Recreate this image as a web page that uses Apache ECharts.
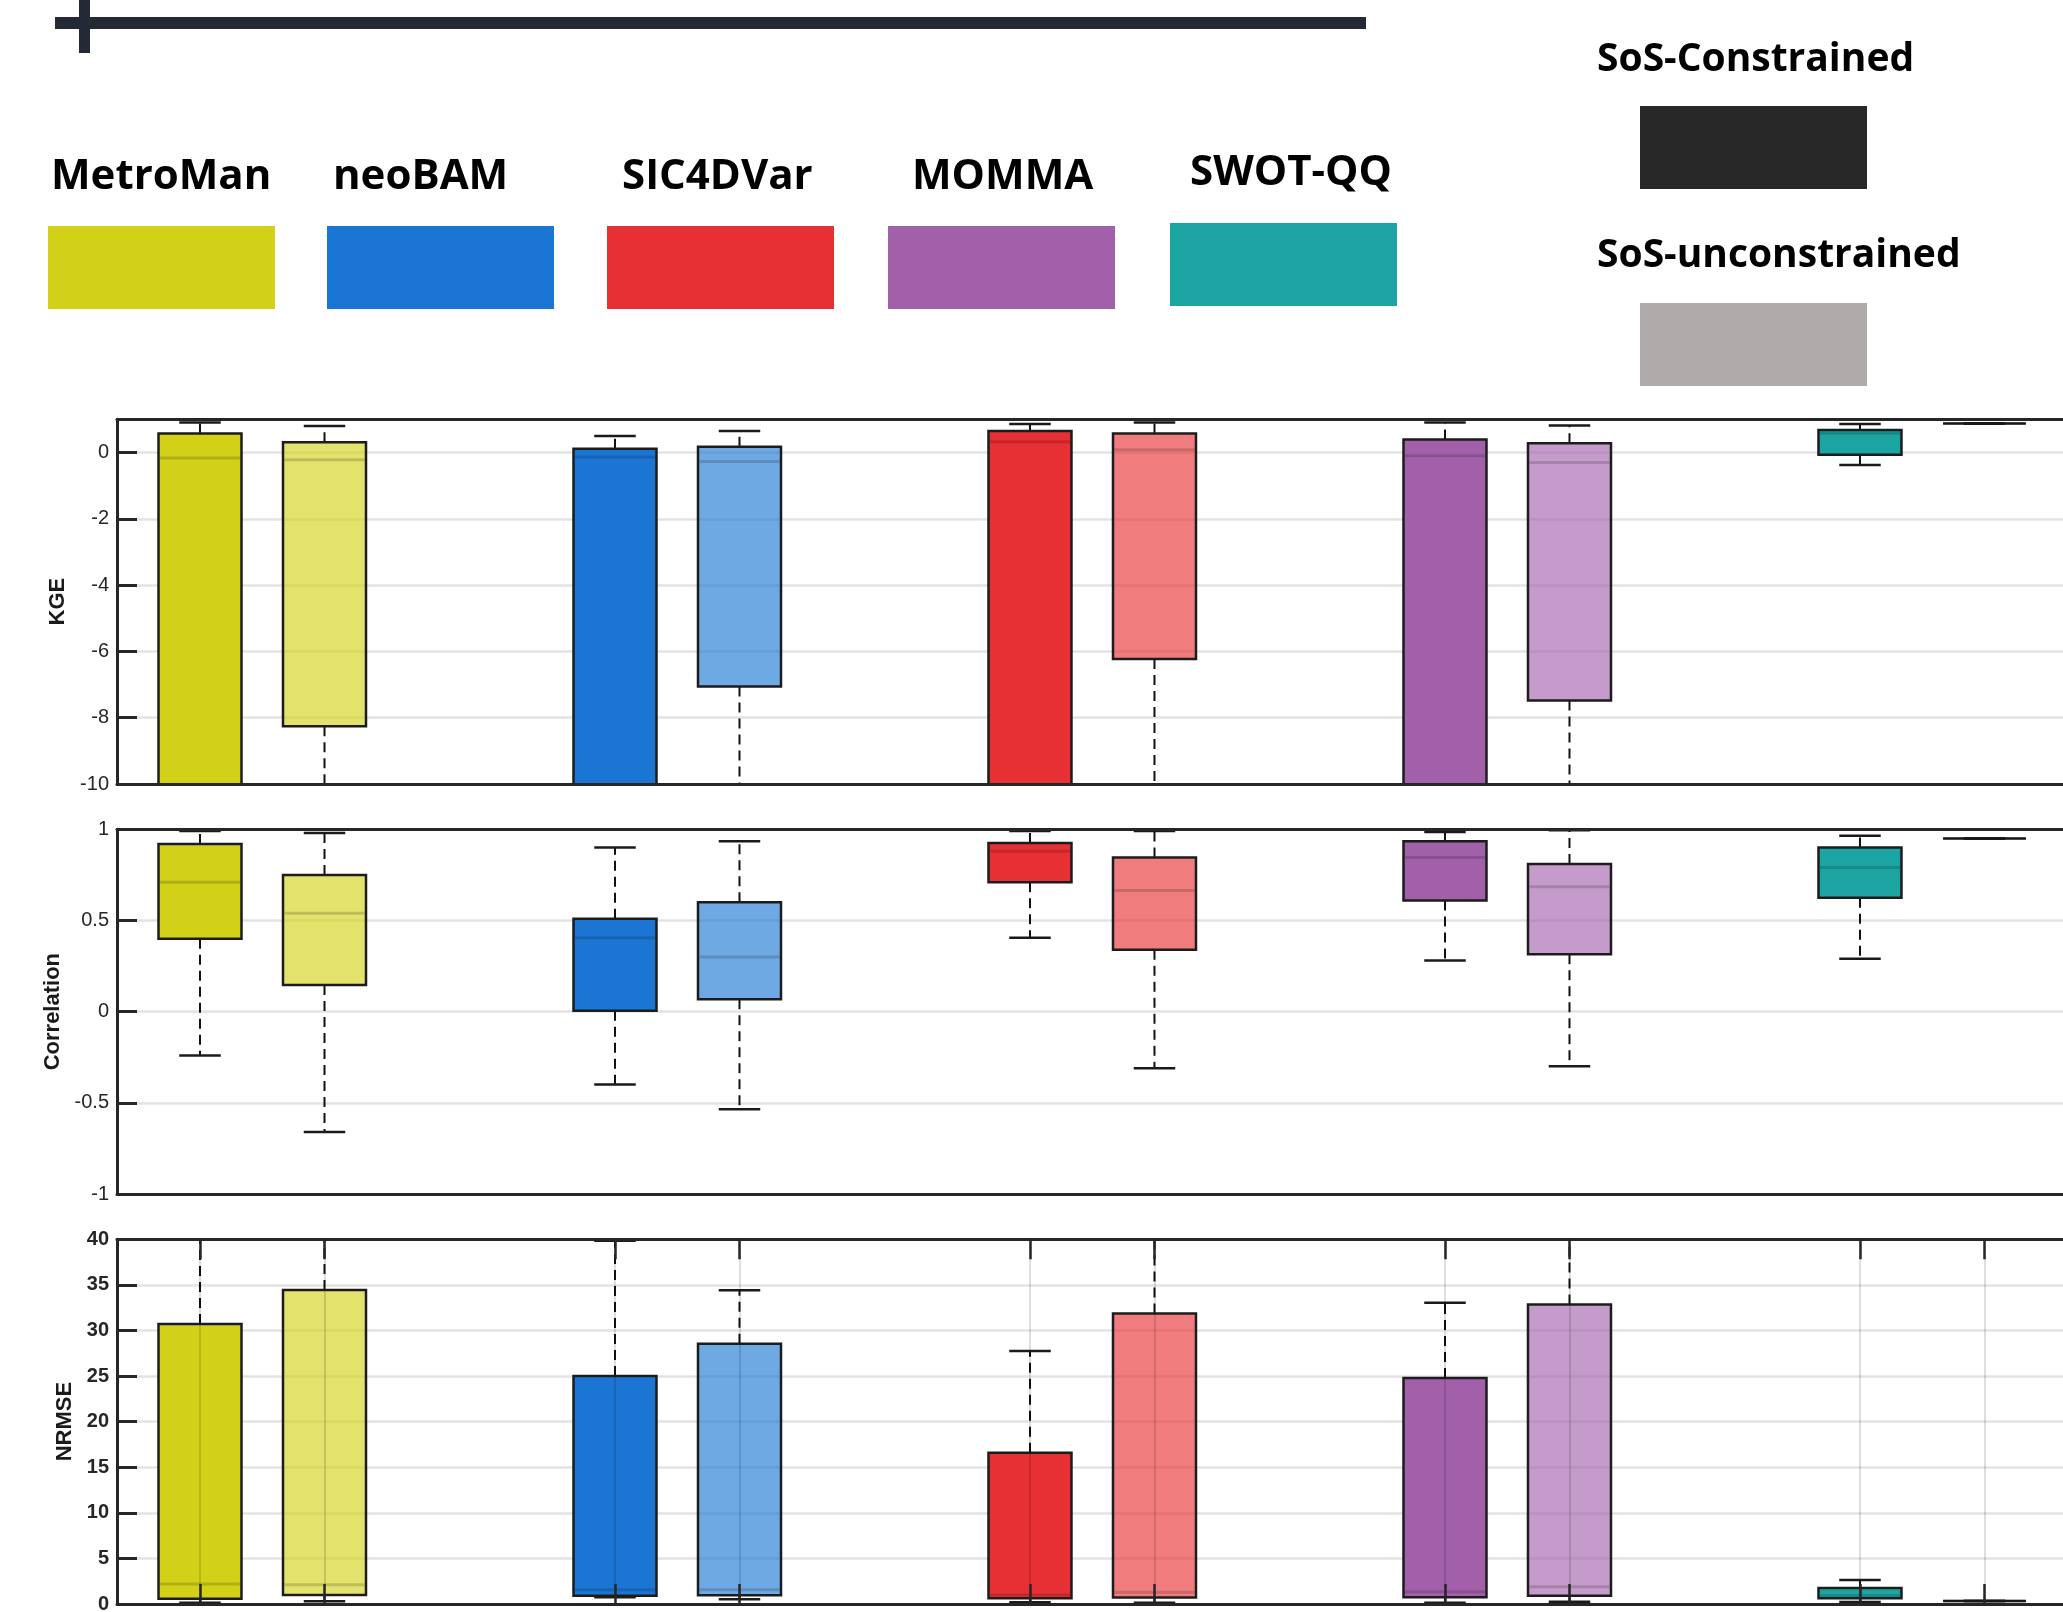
<!DOCTYPE html>
<html>
<head>
<meta charset="utf-8">
<title>SoS constrained vs unconstrained discharge skill</title>
<script src="https://cdn.jsdelivr.net/npm/echarts@6/dist/echarts.min.js"></script>
<style>
  html, body { margin: 0; padding: 0; background: #ffffff; }
  #chart { width: 2063px; height: 1612px; }
</style>
</head>
<body>
<div id="chart"></div>
<script>
// ---- data ---------------------------------------------------------------
const methods = ['MetroMan', 'neoBAM', 'SIC4DVar', 'MOMMA', 'SWOT-QQ'];
const variants = ['SoS-Constrained', 'SoS-unconstrained'];
const metricNames = ['KGE', 'Correlation', 'NRMSE'];

// each row: [lower whisker, Q1, median, Q3, upper whisker]
const kgeConstrained = [
  [-16.0, -12.5, -0.17, 0.57, 0.90],
  [-18.0, -13.0, -0.14, 0.11, 0.50],
  [-15.0, -11.5, 0.32, 0.65, 0.86],
  [-17.0, -12.0, -0.10, 0.39, 0.90],
  [-0.38, -0.07, 0.58, 0.68, 0.86]
];
const kgeUnconstrained = [
  [-20.0, -8.26, -0.22, 0.31, 0.80],
  [-17.0, -7.06, -0.27, 0.17, 0.65],
  [-16.0, -6.23, 0.08, 0.57, 0.90],
  [-18.0, -7.48, -0.30, 0.28, 0.81],
  [0.87, 0.87, 0.87, 0.87, 0.87]
];
const corrConstrained = [
  [-0.24, 0.40, 0.71, 0.92, 0.99],
  [-0.40, 0.005, 0.405, 0.51, 0.90],
  [0.405, 0.71, 0.88, 0.925, 0.99],
  [0.28, 0.61, 0.845, 0.935, 0.985],
  [0.29, 0.625, 0.79, 0.90, 0.965]
];
const corrUnconstrained = [
  [-0.66, 0.146, 0.54, 0.75, 0.98],
  [-0.535, 0.068, 0.30, 0.60, 0.935],
  [-0.31, 0.34, 0.665, 0.845, 0.99],
  [-0.30, 0.315, 0.685, 0.81, 0.995],
  [0.95, 0.95, 0.95, 0.95, 0.95]
];
const nrmseConstrained = [
  [0.15, 0.58, 2.2, 30.7, 60.0],
  [0.73, 0.91, 1.55, 25.0, 39.85],
  [0.18, 0.62, 1.0, 16.6, 27.75],
  [0.15, 0.73, 1.35, 24.8, 33.05],
  [0.22, 0.62, 0.9, 1.75, 2.63]
];
const nrmseUnconstrained = [
  [0.29, 0.99, 2.1, 34.45, 65.0],
  [0.51, 0.95, 1.55, 28.55, 34.4],
  [0.15, 0.70, 1.3, 31.85, 62.0],
  [0.26, 0.91, 1.9, 32.85, 60.0],
  [0.33, 0.33, 0.33, 0.33, 0.33]
];

// y-axis ranges: [min, max, interval]
const kgeRange = [-10, 1, 2];
const corrRange = [-1, 1, 0.5];
const nrmseRange = [0, 40, 5];

// ---- style --------------------------------------------------------------
const methodColors = ['#d2d118', '#1b76d3', '#e73033', '#a260ab', '#1ba4a2'];
const variantSwatches = ['#282828', '#afabaa'];
const variantOffset = [0, 0.3];     // x offset of the two boxes of a method
const boxWidth = 0.2;               // in x-axis units
const xMin = 0.8, xMax = 5.5133;
const ink = '#262626';

// box position on the shared x scale
function boxX(m, v) { return m + 1 + variantOffset[v]; }
const tickPositions = [];
methods.forEach((_, m) => variants.forEach((_, v) => tickPositions.push(boxX(m, v))));

function buildData(rows, v) {
  return rows.map((r, m) => [boxX(m, v), r[0], r[1], r[2], r[3], r[4], m, v]);
}

function renderBox(params, api) {
  const x = api.value(0);
  const lo = api.value(1), q1 = api.value(2), med = api.value(3), q3 = api.value(4), hi = api.value(5);
  const m = api.value(6), v = api.value(7);
  const cx = api.coord([x, med])[0];
  const yLo = api.coord([x, lo])[1];
  const yQ1 = api.coord([x, q1])[1];
  const yMed = api.coord([x, med])[1];
  const yQ3 = api.coord([x, q3])[1];
  const yHi = api.coord([x, hi])[1];
  const bw = api.size([boxWidth, 0])[0];
  const cw = bw / 2;
  const base = methodColors[m];
  const fill = v === 0 ? base : echarts.color.modifyAlpha(base, 0.63);
  const dash = { stroke: '#111111', lineWidth: 2, lineDash: [10, 6], fill: null };
  const cap = { stroke: '#1a1a1a', lineWidth: 2.5, fill: null };
  return {
    type: 'group',
    children: [
      { type: 'line', shape: { x1: cx, y1: yQ3, x2: cx, y2: yHi }, style: dash },
      { type: 'line', shape: { x1: cx, y1: yQ1, x2: cx, y2: yLo }, style: dash },
      { type: 'line', shape: { x1: cx - cw / 2, y1: yHi, x2: cx + cw / 2, y2: yHi }, style: cap },
      { type: 'line', shape: { x1: cx - cw / 2, y1: yLo, x2: cx + cw / 2, y2: yLo }, style: cap },
      { type: 'rect', shape: { x: cx - bw / 2, y: yQ3, width: bw, height: yQ1 - yQ3 },
        style: { fill: fill, stroke: '#1c1c1c', lineWidth: 2.5 } },
      { type: 'line', shape: { x1: cx - bw / 2 + 1.5, y1: yMed, x2: cx + bw / 2 - 1.5, y2: yMed },
        style: { stroke: 'rgba(0,0,0,0.16)', lineWidth: 3 } }
    ]
  };
}

// ---- layout -------------------------------------------------------------
const gridTops = [419.3, 829.3, 1239.3];
const gridHeight = 364.7;
const nameGaps = [42, 45, 34];
const ranges = [kgeRange, corrRange, nrmseRange];
const seriesRows = [
  [kgeConstrained, kgeUnconstrained],
  [corrConstrained, corrUnconstrained],
  [nrmseConstrained, nrmseUnconstrained]
];

const grids = [], xAxes = [], yAxes = [], series = [];
metricNames.forEach((name, i) => {
  const withTicks = name === 'NRMSE';
  grids.push({ left: 117, right: -10, top: gridTops[i], height: gridHeight, containLabel: false, outerBoundsMode: 'none' });
  const tick = {
    show: withTicks, inside: true, length: 20, customValues: tickPositions,
    lineStyle: { color: ink, width: 2.5 }
  };
  xAxes.push({
    gridIndex: i, type: 'value', min: xMin, max: xMax, position: 'bottom', z: 10,
    axisLine: { show: true, onZero: false, lineStyle: { color: ink, width: 3 } },
    axisTick: tick,
    axisLabel: { show: false },
    splitLine: { show: withTicks, lineStyle: { color: 'rgba(0,0,0,0.13)', width: 2 } }
  });
  xAxes.push({
    gridIndex: i, type: 'value', min: xMin, max: xMax, position: 'top', z: 10,
    axisLine: { show: true, onZero: false, lineStyle: { color: ink, width: 3 } },
    axisTick: tick,
    axisLabel: { show: false },
    splitLine: { show: false }
  });
  const r = ranges[i];
  yAxes.push({
    gridIndex: i, type: 'value', min: r[0], max: r[1], interval: r[2],
    name: name, nameLocation: 'middle', nameGap: nameGaps[i], nameRotate: 90,
    nameTextStyle: { fontFamily: 'Liberation Sans', fontWeight: 'bold', fontSize: 22, color: '#1a1a1a' },
    axisLine: { show: true, onZero: false, lineStyle: { color: ink, width: 3 } },
    axisTick: { show: true, inside: true, length: 20, lineStyle: { color: ink, width: 3 } },
    axisLabel: {
      fontFamily: 'Liberation Sans', fontSize: 20, color: ink, margin: 8,
      fontWeight: withTicks ? 'bold' : 'normal',
      formatter: (val) => (name === 'KGE' && val === r[1]) ? '' : String(val)
    },
    splitLine: { show: true, lineStyle: { color: '#e3e3e3', width: 2.5 } }
  });
  seriesRows[i].forEach((rows, v) => {
    series.push({
      type: 'custom', name: name + ' ' + variants[v],
      xAxisIndex: i * 2, yAxisIndex: i, clip: true, z: 2,
      renderItem: renderBox,
      encode: { x: 0, y: [1, 2, 3, 4, 5] },
      data: buildData(rows, v)
    });
  });
});

// ---- legend and header graphics ----------------------------------------
const legendTextX = [51, 333, 622, 912, 1190];
const legendTextY = [177, 177, 177, 177, 173];
const legendBoxX = [48, 327, 607, 888, 1170];
const legendBoxY = [226, 226, 226, 226, 223];
const variantTextY = [60, 256];
const variantBoxY = [106, 303];
const legendFont = { fontFamily: 'Open Sans', fontWeight: 'bold', fill: '#000000', align: 'left', verticalAlign: 'middle' };

const graphic = [
  { type: 'rect', shape: { x: 55, y: 17, width: 1311, height: 12 }, style: { fill: '#232a35' } },
  { type: 'rect', shape: { x: 79, y: 0, width: 11, height: 53 }, style: { fill: '#232a35' } }
];
methods.forEach((label, m) => {
  graphic.push({ type: 'text', x: legendTextX[m], y: legendTextY[m],
    style: Object.assign({ text: label, fontSize: 42 }, legendFont) });
  graphic.push({ type: 'rect', shape: { x: legendBoxX[m], y: legendBoxY[m], width: 227, height: 83 },
    style: { fill: methodColors[m] } });
});
variants.forEach((label, v) => {
  graphic.push({ type: 'text', x: 1597, y: variantTextY[v],
    style: Object.assign({ text: label, fontSize: 39 }, legendFont) });
  graphic.push({ type: 'rect', shape: { x: 1640, y: variantBoxY[v], width: 227, height: 83 },
    style: { fill: variantSwatches[v] } });
});

const chart = echarts.init(document.getElementById('chart'), null, { renderer: 'canvas' });
chart.setOption({
  backgroundColor: '#ffffff',
  animation: false,
  grid: grids,
  xAxis: xAxes,
  yAxis: yAxes,
  series: series,
  graphic: graphic
});
</script>
</body>
</html>
